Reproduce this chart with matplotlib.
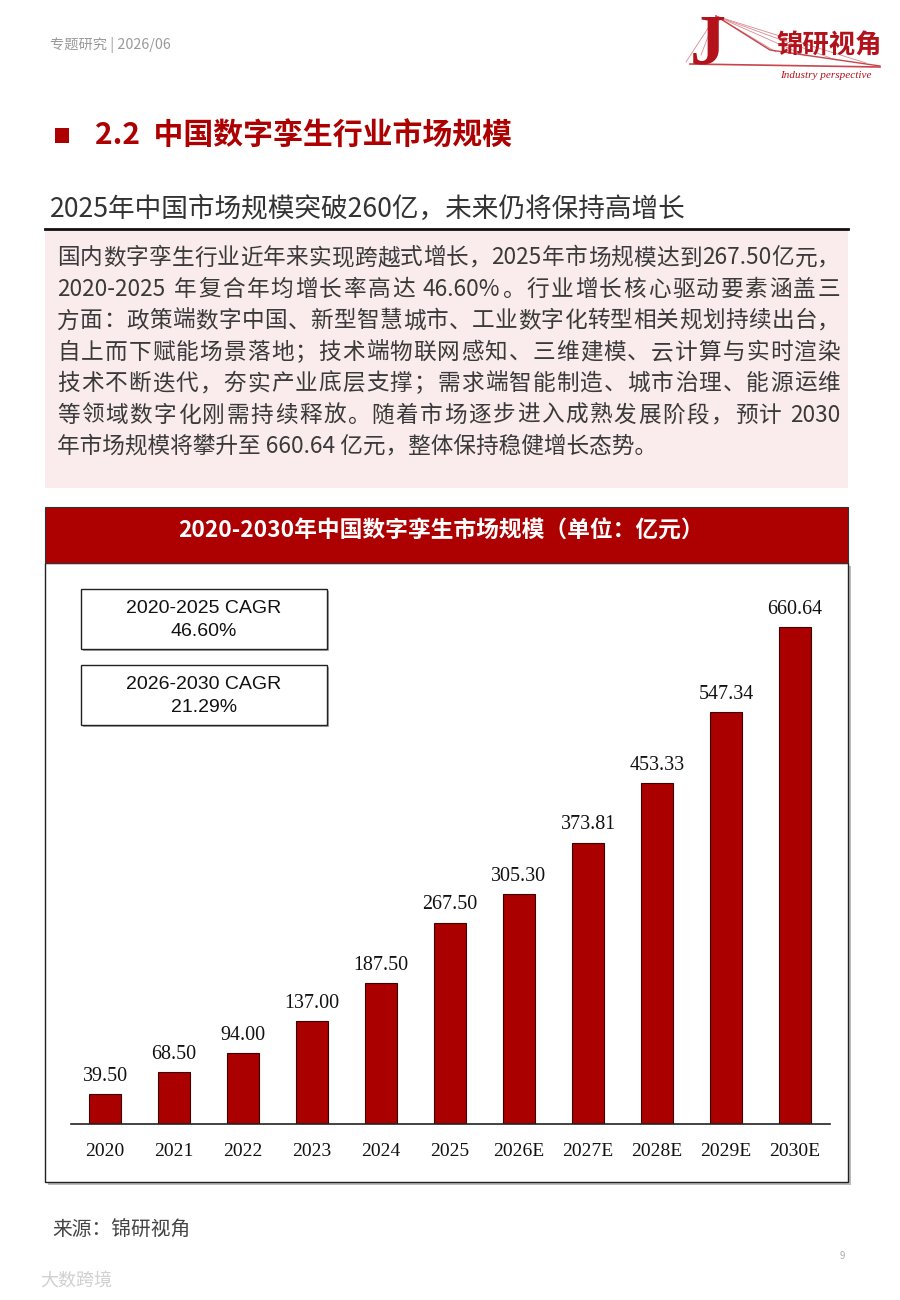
import re
import matplotlib.pyplot as plt
from matplotlib.patches import Rectangle

# chart data
years = ['2020', '2021', '2022', '2023', '2024', '2025',
         '2026E', '2027E', '2028E', '2029E', '2030E']
market_size = [39.50, 68.50, 94.00, 137.00, 187.50, 267.50,
               305.30, 373.81, 453.33, 547.34, 660.64]
cagr_labels = ['2020-2025 CAGR\n46.60%', '2026-2030 CAGR\n21.29%']

body_lines = [
    '国内数字孪生行业近年来实现跨越式增长，2025年市场规模达到267.50亿元，',
    '2020-2025 年复合年均增长率高达 46.60%。行业增长核心驱动要素涵盖三',
    '方面：政策端数字中国、新型智慧城市、工业数字化转型相关规划持续出台，',
    '自上而下赋能场景落地；技术端物联网感知、三维建模、云计算与实时渲染',
    '技术不断迭代，夯实产业底层支撑；需求端智能制造、城市治理、能源运维',
    '等领域数字化刚需持续释放。随着市场逐步进入成熟发展阶段，预计 2030',
    '年市场规模将攀升至 660.64 亿元，整体保持稳健增长态势。',
]

W, H = 900, 1300
RED = '#AD0000'
CJK = ['Noto Sans CJK SC', 'DejaVu Sans']
plt.rcParams['font.family'] = CJK

fig = plt.figure(figsize=(W / 100, H / 100), dpi=100)
fig.patch.set_facecolor('white')
renderer = fig.canvas.get_renderer()


def fx(x):
    return x / W


def fy(y):
    return 1 - y / H


def box(x0, y0, x1, y1, z=1, **kw):
    fig.patches.append(Rectangle((fx(x0), fy(y1)), fx(x1) - fx(x0), fy(y0) - fy(y1),
                                 transform=fig.transFigure, zorder=z, **kw))


def text(x, y, s, **kw):
    return fig.text(fx(x), fy(y), s, **kw)


def justified(x0, x1, y, line, **kw):
    # split into CJK chars and latin runs, then spread them over the line width
    tokens = re.findall(r'[A-Za-z0-9.%\-]+|\s|.', line)
    arts, widths = [], []
    for t in tokens:
        a = text(0, y, t, va='center', **kw)
        widths.append(a.get_window_extent(renderer).width)
        arts.append(a)
    gap = (x1 - x0 - sum(widths)) / max(len(tokens) - 1, 1)
    x = x0
    for a, w in zip(arts, widths):
        a.set_x(fx(x))
        x += w + gap


# header
text(50, 45, '专题研究 | 2026/06', fontsize=10.3, color='#9a9a9a', va='center')

# logo (simplified)
for dx, dy in [(60, 52), (90, 56), (120, 60), (150, 63), (-15, 55), (-30, 62)]:
    fig.add_artist(plt.Line2D([fx(716), fx(716 + dx)], [fy(16), fy(dy)],
                              transform=fig.transFigure, color='#D98A8E', lw=0.6))
fig.add_artist(plt.Line2D([fx(716), fx(770), fx(880)], [fy(16), fy(50), fy(66)],
                          transform=fig.transFigure, color='#C9454C', lw=1.0))
text(708, 46, 'J', fontsize=52, color='#B3121B', va='center', ha='center',
     family='Liberation Serif', fontweight='bold')
text(776, 45, '锦研视角', fontsize=19, color='#B3121B', va='center', fontweight='bold')
text(780, 75, 'Industry perspective', fontsize=8, color='#B3121B', va='center',
     family='Liberation Serif', style='italic')
fig.add_artist(plt.Line2D([fx(690), fx(880)], [fy(64), fy(67)], transform=fig.transFigure,
                          color='#C9454C', lw=1.2))

# section title
box(55, 128, 69, 143, facecolor=RED, edgecolor='none')
text(95, 136, '2.2  中国数字孪生行业市场规模', fontsize=21.5, color=RED,
     va='center', fontweight='bold')

# subtitle
text(50, 209, '2025年中国市场规模突破260亿，未来仍将保持高增长', fontsize=19.2,
     color='#333333', va='center')
fig.add_artist(plt.Line2D([fx(45), fx(848)], [fy(229), fy(229)], transform=fig.transFigure,
                          color='#111111', lw=2))

# body text box
box(45, 230, 848, 488, facecolor='#FAEBEC', edgecolor='none')
for i, line in enumerate(body_lines):
    y = 258 + i * 31.4
    if i < len(body_lines) - 1:
        justified(57, 840, y, line, fontsize=16.3, color='#3a3a3a')
    else:
        text(57, y, line, fontsize=16.3, color='#3a3a3a', va='center')

# chart frame
box(48, 566, 851, 1185, facecolor='#BBBBBB', edgecolor='none')
box(45, 563, 848, 1182, facecolor='white', edgecolor='#222222', lw=1)
box(45, 507, 848, 563, facecolor=RED, edgecolor='#333333', lw=0.8)
text(441, 531, '2020-2030年中国数字孪生市场规模（单位：亿元）', fontsize=16.4,
     color='white', ha='center', va='center', fontweight='bold')

# bar chart
ax = fig.add_axes([fx(70.5), fy(1124), fx(829.5) - fx(70.5), fy(580) - fy(1124)])
ax.set_zorder(5)
ax.set_facecolor('none')
xs = range(len(years))
ax.bar(xs, market_size, width=0.46, color='#AA0000', edgecolor='#3d0000', linewidth=0.8)
for x, v in zip(xs, market_size):
    ax.text(x, v + 11, f'{v:.2f}', ha='center', va='bottom', fontsize=14.4,
            family='Liberation Serif', color='#111111')
ax.set_xlim(-0.5, 10.5)
ax.set_ylim(0, 723)
ax.set_xticks(list(xs))
ax.set_xticklabels(years, family='Liberation Serif', fontsize=14, color='#111111')
ax.tick_params(axis='x', length=0, pad=14)
ax.set_yticks([])
for side in ['top', 'right', 'left']:
    ax.spines[side].set_visible(False)
ax.spines['bottom'].set_color('#222222')
ax.spines['bottom'].set_linewidth(1.2)

# CAGR boxes
for i, lab in enumerate(cagr_labels):
    y0 = 589 + i * 76
    box(83, y0 + 2, 329, y0 + 62, z=6, facecolor='#AAAAAA', edgecolor='none')
    box(81, y0, 327, y0 + 60, z=6, facecolor='white', edgecolor='#222222', lw=1)
    text(204, y0 + 31, lab, fontsize=14, color='#111111', ha='center', va='center',
         family='Liberation Sans', linespacing=1.45, zorder=7)

# footer
text(52, 1230, '来源：锦研视角', fontsize=14.2, color='#444444', va='center')
text(840, 1256, '9', fontsize=7, color='#aaaaaa', va='center')
text(40, 1281, '大数跨境', fontsize=13, color='#d0d0d0', va='center')

fig.savefig('out.png', dpi=100, facecolor='white')
